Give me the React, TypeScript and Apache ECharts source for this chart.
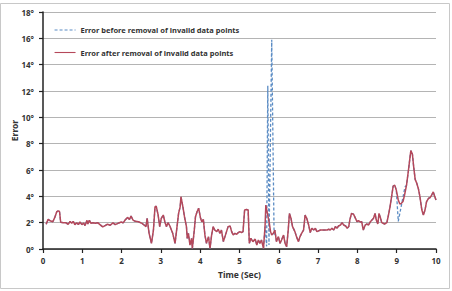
import React, { useEffect, useRef } from "react";
import * as echarts from "echarts";

const afterTimes = [
  0.08, 0.13, 0.18, 0.25, 0.30, 0.35, 0.39, 0.42, 0.45, 0.52, 0.58, 0.64, 0.69, 0.73, 0.77, 0.81, 0.86, 0.90, 0.94, 0.99,
  1.03, 1.07, 1.12, 1.14, 1.18, 1.22, 1.27, 1.33, 1.39, 1.45, 1.52, 1.58, 1.64, 1.71, 1.78, 1.84, 1.93, 1.99,
  2.04, 2.09, 2.15, 2.20, 2.24, 2.29, 2.35, 2.43, 2.52, 2.58, 2.62, 2.65, 2.70, 2.76, 2.81, 2.85, 2.88, 2.93, 2.97,
  3.01, 3.06, 3.10, 3.14, 3.18, 3.22, 3.30, 3.36, 3.40, 3.45, 3.49, 3.51, 3.56, 3.60, 3.65, 3.67, 3.70, 3.74, 3.78, 3.80, 3.85, 3.88, 3.92, 3.96,
  4.01, 4.04, 4.08, 4.12, 4.16, 4.21, 4.25, 4.29, 4.33, 4.37, 4.42, 4.46, 4.50, 4.54, 4.59, 4.63, 4.67, 4.71, 4.76, 4.80, 4.84, 4.88, 4.93, 4.97,
  5.01, 5.05, 5.09, 5.13, 5.18, 5.22, 5.25, 5.29, 5.34, 5.40, 5.44, 5.48, 5.52, 5.56, 5.61, 5.65, 5.67, 5.71, 5.76, 5.79, 5.82, 5.86, 5.90, 5.94, 5.99,
  6.03, 6.07, 6.12, 6.16, 6.20, 6.24, 6.27, 6.31, 6.35, 6.41, 6.45, 6.50, 6.54, 6.58, 6.63, 6.67, 6.71, 6.76, 6.80, 6.84, 6.89, 6.93, 6.97,
  7.06, 7.14, 7.23, 7.27, 7.31, 7.35, 7.40, 7.44, 7.48, 7.52, 7.57, 7.61, 7.65, 7.70, 7.74, 7.78, 7.81, 7.85, 7.90, 7.94, 7.99,
  8.03, 8.07, 8.11, 8.15, 8.20, 8.24, 8.28, 8.33, 8.37, 8.41, 8.45, 8.48, 8.52, 8.55, 8.59, 8.62, 8.69, 8.75, 8.79, 8.83, 8.87, 8.91, 8.95, 8.99,
  9.04, 9.08, 9.12, 9.16, 9.20, 9.25, 9.30, 9.34, 9.36, 9.40, 9.43, 9.47, 9.51, 9.55, 9.59, 9.64, 9.68, 9.72, 9.76, 9.81, 9.85, 9.89, 9.93, 9.97, 10.0,
];

const afterValues = [
  1.88, 2.25, 2.15, 2.07, 2.4, 2.83, 2.9, 2.85, 2.03, 2.0, 2.0, 1.87, 2.1, 1.95, 2.1, 1.85, 2.0, 1.85, 2.05, 1.85,
  1.98, 1.78, 2.18, 1.9, 2.18, 1.95, 2.0, 1.95, 2.0, 1.85, 1.68, 1.78, 1.88, 1.8, 1.98, 1.85, 1.98, 2.05,
  1.98, 2.2, 2.4, 2.25, 2.5, 2.2, 2.1, 2.07, 1.95, 1.8, 1.7, 2.33, 1.19, 0.43, 1.44, 3.2, 3.25, 2.58, 1.7,
  2.33, 2.58, 2.07, 1.7, 2.0, 1.8, 1.19, 0.43, 1.44, 2.7, 3.2, 3.97, 3.2, 2.45, 1.7, 0.81, 1.19, 0.3, 0.81, 0.05, 1.44, 2.45, 2.83, 3.1,
  2.33, 2.07, 2.25, 1.06, 0.43, 0.94, 0.05, 1.06, 1.7, 1.44, 1.32, 1.5, 1.19, 1.44, 0.56, 0.94, 1.32, 1.7, 1.75, 1.32, 1.06, 1.19, 1.12, 1.25,
  1.32, 1.25, 1.32, 2.96, 3.0, 2.96, 0.43, 0.81, 0.56, 0.75, 0.3, 0.68, 0.43, 0.68, 0.05, 1.7, 3.34, 2.7, 1.95, 1.32, 1.06, 1.19, 1.44, 0.56, 0.94,
  0.43, 0.68, 1.06, 0.43, 0.18, 1.44, 2.7, 2.33, 1.7, 1.32, 0.94, 0.56, 0.94, 1.19, 1.44, 2.58, 2.33, 1.82, 1.25, 1.57, 1.44, 1.57, 1.32,
  1.44, 1.44, 1.44, 1.5, 1.44, 1.57, 1.44, 1.7, 1.57, 1.75, 1.82, 2.0, 1.82, 1.75, 1.57, 1.7, 2.25, 2.7, 2.65, 2.4, 2.07,
  2.15, 2.05, 2.07, 1.44, 1.82, 1.9, 1.82, 2.07, 2.2, 2.33, 2.7, 2.2, 1.9, 2.7, 2.33, 2.0, 1.9, 2.0, 2.58, 3.2, 3.97, 4.78, 4.85, 4.47,
  3.72, 3.41, 3.47, 3.6, 4.1, 4.85, 6.0, 7.0, 7.47, 7.2, 6.3, 5.29, 5.0, 4.6, 4.0, 2.96, 2.58, 2.96, 3.6, 3.85, 3.9, 4.1, 4.34, 3.97, 3.72,
];

// Segments where the "before removal" series differs from the "after" one
const beforeRanges = [
  [5.65, 5.90],
  [8.99, 9.25],
];
const beforeTimes = [5.69, 5.72, 5.75, 5.82, 5.88, 9.04, 9.21];
const beforeValues = [0.2, 12.4, 0.3, 15.9, 1.1, 2.1, 4.7];

const yTicks = [0, 2, 4, 6, 8, 10, 12, 14, 16, 18];
const xTicks = [0, 1, 2, 3, 4, 5, 6, 7, 8, 9, 10];

const seriesNames = [
  "Error before removal of invalid data points",
  "Error after removal of invalid data points",
];

export default function App() {
  const ref = useRef<HTMLDivElement>(null);
  useEffect(() => {
    if (!ref.current) return;
    const chart = echarts.init(ref.current, null, { renderer: "svg" });
    const after = afterTimes.map((t, i) => [t, afterValues[i]]);
    const inRange = (t: number) => beforeRanges.some(([a, b]) => t > a && t < b);
    const before = after
      .filter((p) => !inRange(p[0]))
      .concat(beforeTimes.map((t, i) => [t, beforeValues[i]]))
      .sort((a, b) => a[0] - b[0]);
    const font = "'Noto Sans', sans-serif";
    chart.setOption({
      animation: false,
      backgroundColor: "#ffffff",
      textStyle: { fontFamily: font },
      grid: { left: 43, right: 16, top: 12, bottom: 42, containLabel: false, outerBoundsMode: "none" },
      legend: {
        orient: "vertical",
        left: 49,
        top: 21,
        itemWidth: 21,
        itemHeight: 10,
        itemGap: 14.5,
        data: seriesNames,
        itemStyle: { opacity: 0 },
        lineStyle: { width: 1.1 },
        textStyle: { fontSize: 7.5, fontWeight: "bold", color: "#333", fontFamily: font },
      },
      xAxis: {
        type: "value",
        min: 0,
        max: 10,
        interval: 1,
        name: "Time (Sec)",
        nameLocation: "middle",
        nameGap: 21,
        nameMoveOverlap: false,
        nameTextStyle: { fontSize: 8.5, fontWeight: "bold", color: "#333" },
        axisLine: { show: true, onZero: false, lineStyle: { color: "#222", width: 1.5 } },
        axisTick: { show: true, length: 4, lineStyle: { color: "#222", width: 1.2 } },
        axisLabel: {
          fontSize: 8,
          fontWeight: "bold",
          color: "#333",
          margin: 7,
          formatter: (v: number) => (xTicks.includes(v) ? String(v) : ""),
        },
        splitLine: { show: false },
      },
      yAxis: {
        type: "value",
        min: 0,
        max: 18,
        interval: 2,
        name: "Error",
        nameLocation: "middle",
        nameGap: 24,
        nameMoveOverlap: false,
        nameRotate: 90,
        nameTextStyle: { fontSize: 8.5, fontWeight: "bold", color: "#333" },
        axisLine: { show: true, lineStyle: { color: "#222", width: 1.5 } },
        axisTick: { show: true, length: 4, lineStyle: { color: "#222", width: 1.2 } },
        axisLabel: {
          fontSize: 8,
          fontWeight: "bold",
          color: "#333",
          margin: 9,
          formatter: (v: number) => (yTicks.includes(v) ? v + "°" : ""),
        },
        splitLine: { show: true, lineStyle: { color: "#b4b4b4", width: 1 } },
      },
      graphic: [
        {
          type: "rect",
          silent: true,
          shape: { x: 0.5, y: 3.5, width: 449, height: 285 },
          style: { fill: "none", stroke: "#c8c8c8", lineWidth: 1 },
        },
      ],
      series: [
        {
          name: seriesNames[0],
          type: "line",
          data: before,
          showSymbol: false,
          symbol: "none",
          lineStyle: { color: "#5b8cc4", width: 1.3, type: [3, 2] },
          itemStyle: { color: "#5b8cc4" },
          z: 2,
        },
        {
          name: seriesNames[1],
          type: "line",
          data: after,
          showSymbol: false,
          symbol: "none",
          lineStyle: { color: "#b5485a", width: 1.5 },
          itemStyle: { color: "#b5485a" },
          z: 3,
        },
      ],
    });
    return () => chart.dispose();
  }, []);
  return (
    <div
      ref={ref}
      style={{ position: "fixed", left: 0, top: 0, width: 452, height: 291 }}
    />
  );
}
